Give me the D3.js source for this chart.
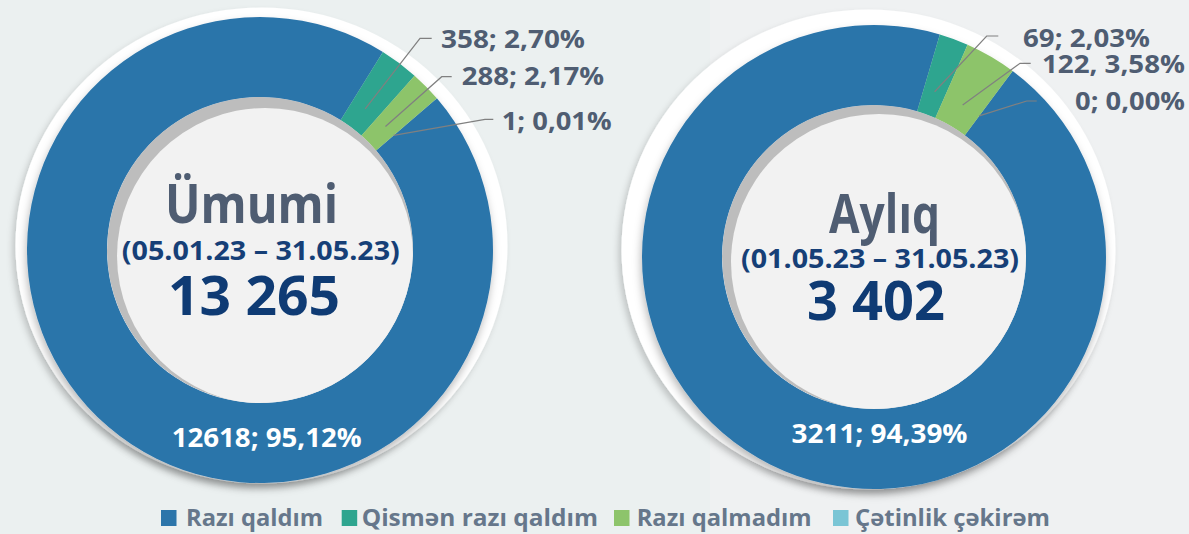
<!DOCTYPE html>
<html>
<head>
<meta charset="utf-8">
<script src="https://cdnjs.cloudflare.com/ajax/libs/d3/7.8.5/d3.min.js"></script>
<style>
  html, body { margin: 0; padding: 0; background: #ebf0f0; }
  svg { display: block; }
  text { font-family: "Open Sans", "Noto Sans", sans-serif; }
</style>
</head>
<body>
<svg id="chart" width="1189" height="534"></svg>
<script>
// Survey answers (categories and colours shared by both doughnuts)
const categories = ["Razı qaldım", "Qismən razı qaldım", "Razı qalmadım", "Çətinlik çəkirəm"];
const colors = ["#2c75aa", "#2ea58f", "#8dc46b", "#7ac5d5"];

// Whole period and the month
const totalValues = [12618, 358, 288, 1];
const monthlyValues = [3211, 69, 122, 0];

// Data label texts as printed
const totalLabels = ["12618; 95,12%", "358; 2,70%", "288; 2,17%", "1; 0,01%"];
const monthlyLabels = ["3211; 94,39%", "69; 2,03%", "122, 3,58%", "0; 0,00%"];

const titles = ["Ümumi", "Aylıq"];
const periods = ["(05.01.23 – 31.05.23)", "(01.05.23 – 31.05.23)"];

const svg = d3.select("#chart");
const W = 1189, H = 534;

// background, two soft panels
svg.append("rect").attr("width", W).attr("height", H).attr("fill", "#ebf0f0");
svg.append("rect").attr("x", 710).attr("width", W - 710).attr("height", H).attr("fill", "#eff1f2");

const defs = svg.append("defs");
const ringShadow = defs.append("filter").attr("id", "ringShadow")
  .attr("x", "-10%").attr("y", "-10%").attr("width", "120%").attr("height", "125%");
ringShadow.append("feDropShadow").attr("dx", -1).attr("dy", 5).attr("stdDeviation", 4)
  .attr("flood-color", "#000").attr("flood-opacity", 0.28);
const plateShadow = defs.append("filter").attr("id", "plateShadow")
  .attr("x", "-10%").attr("y", "-10%").attr("width", "120%").attr("height", "125%");
plateShadow.append("feDropShadow").attr("dx", -3).attr("dy", 4).attr("stdDeviation", 3)
  .attr("flood-color", "#000").attr("flood-opacity", 0.18);

const fmtThousands = v => d3.format(",")(v).replace(/,/g, " ");

// layout of each doughnut
const layouts = [
  {
    values: totalValues, labels: totalLabels, title: titles[0], period: periods[0],
    cx: 260, cy: 250, outer: 233, inner: 153, start: 49.4,
    plate: { cx: 261.5, cy: 245.5, rx: 246, ry: 238 },
    face: { dx: 5, dy: 6, r: 148 },
    titleText: { x: 251.5, y: 223, w: 173 },
    periodText: { x: 260.8, y: 260, w: 278 },
    totalText: { x: 254, y: 315, w: 172 },
    mainLabel: { x: 266.7, y: 446.7, w: 190 },
    callouts: [
      { ex: 420, ey: 38.3, hx: 431.7, tx: 441, ty: 48, w: 144 },
      { ex: 441.7, ey: 76.7, hx: 451.7, tx: 461.7, ty: 85, w: 142.3 },
      { ex: 485, ey: 119.3, hx: 493.3, tx: 501.7, ty: 130, w: 110 }
    ]
  },
  {
    values: monthlyValues, labels: monthlyLabels, title: titles[1], period: periods[1],
    cx: 874, cy: 257, outer: 232, inner: 152, start: 36.7,
    plate: { cx: 868.5, cy: 249.5, rx: 247, ry: 240 },
    face: { dx: 5, dy: 5, r: 148 },
    titleText: { x: 884.5, y: 233, w: 111 },
    periodText: { x: 880, y: 268, w: 278 },
    totalText: { x: 876, y: 320, w: 138 },
    mainLabel: { x: 879.5, y: 443, w: 176 },
    callouts: [
      { ex: 986.7, ey: 36, hx: 998.3, tx: 1023, ty: 47, w: 127 },
      { ex: 1020, ey: 63.3, hx: 1030.7, tx: 1042, ty: 73, w: 143 },
      { ex: 1026.7, ey: 101, hx: 1036.7, tx: 1075, ty: 110, w: 110 }
    ]
  }
];

layouts.forEach((L, k) => {
  const g = svg.append("g");

  // white plate behind the ring
  g.append("ellipse")
    .attr("cx", L.plate.cx).attr("cy", L.plate.cy)
    .attr("rx", L.plate.rx).attr("ry", L.plate.ry)
    .attr("fill", "#ffffff").attr("filter", "url(#plateShadow)");

  const c = g.append("g").attr("transform", `translate(${L.cx},${L.cy})`);

  const a0 = L.start * Math.PI / 180;
  const pie = d3.pie().sort(null).value(d => d).startAngle(a0).endAngle(a0 + 2 * Math.PI);
  const arcs = pie(L.values);
  const arc = d3.arc().innerRadius(L.inner).outerRadius(L.outer);

  const ring = c.append("g").attr("filter", "url(#ringShadow)");
  ring.selectAll("path").data(arcs).join("path")
    .attr("d", arc)
    .attr("fill", (d, i) => colors[i]);

  // recessed centre: grey rim with a light face
  const clipId = "hole" + k;
  defs.append("clipPath").attr("id", clipId)
    .append("circle").attr("cx", 0).attr("cy", 0).attr("r", L.inner);
  const hole = c.append("g").attr("clip-path", `url(#${clipId})`);
  hole.append("circle").attr("r", L.inner).attr("fill", "#bdbdbd");
  hole.append("circle").attr("cx", L.face.dx).attr("cy", L.face.dy)
    .attr("r", L.face.r).attr("fill", "#f2f2f2");

  // leader lines from the small slices
  const anchor = d3.arc().innerRadius(176).outerRadius(176);
  L.callouts.forEach((co, j) => {
    const p = anchor.centroid(arcs[j + 1]);
    const pts = [[L.cx + p[0], L.cy + p[1]], [co.ex, co.ey], [co.hx, co.ey]];
    svg.append("path")
      .attr("d", d3.line()(pts))
      .attr("fill", "none").attr("stroke", "#808080").attr("stroke-width", 1.2);
    svg.append("text")
      .attr("x", co.tx).attr("y", co.ty)
      .attr("textLength", co.w).attr("lengthAdjust", "spacingAndGlyphs")
      .attr("font-size", 25).attr("font-weight", 700).attr("fill", "#4f5d72")
      .text(L.labels[j + 1]);
  });

  // label of the main slice
  svg.append("text")
    .attr("x", L.mainLabel.x).attr("y", L.mainLabel.y).attr("text-anchor", "middle")
    .attr("textLength", L.mainLabel.w).attr("lengthAdjust", "spacingAndGlyphs")
    .attr("font-size", 27).attr("font-weight", 700).attr("fill", "#ffffff")
    .text(L.labels[0]);

  // centre texts
  svg.append("text")
    .attr("x", L.titleText.x).attr("y", L.titleText.y).attr("text-anchor", "middle")
    .attr("textLength", L.titleText.w).attr("lengthAdjust", "spacingAndGlyphs")
    .attr("font-size", 54).attr("font-weight", 700).attr("fill", "#4f5d72")
    .text(L.title);
  svg.append("text")
    .attr("x", L.periodText.x).attr("y", L.periodText.y).attr("text-anchor", "middle")
    .attr("textLength", L.periodText.w).attr("lengthAdjust", "spacingAndGlyphs")
    .attr("font-size", 26).attr("font-weight", 700).attr("fill", "#163f77")
    .text(L.period);
  svg.append("text")
    .attr("x", L.totalText.x).attr("y", L.totalText.y).attr("text-anchor", "middle")
    .attr("textLength", L.totalText.w).attr("lengthAdjust", "spacingAndGlyphs")
    .attr("font-size", 53).attr("font-weight", 700).attr("fill", "#0f3b74")
    .text(fmtThousands(d3.sum(L.values)));
});

// legend
const legendItems = [
  { sx: 161, tx: 186, w: 137 },
  { sx: 341.7, tx: 361.7, w: 236.3 },
  { sx: 614, tx: 636.7, w: 175 },
  { sx: 833, tx: 855, w: 195 }
];
const legend = svg.append("g");
categories.forEach((name, i) => {
  const it = legendItems[i];
  legend.append("rect")
    .attr("x", it.sx).attr("y", 510).attr("width", 15.5).attr("height", 16)
    .attr("fill", colors[i]);
  legend.append("text")
    .attr("x", it.tx).attr("y", 526)
    .attr("textLength", it.w).attr("lengthAdjust", "spacingAndGlyphs")
    .attr("font-size", 22.5).attr("font-weight", 700).attr("fill", "#66778b")
    .text(name);
});
</script>
</body>
</html>
